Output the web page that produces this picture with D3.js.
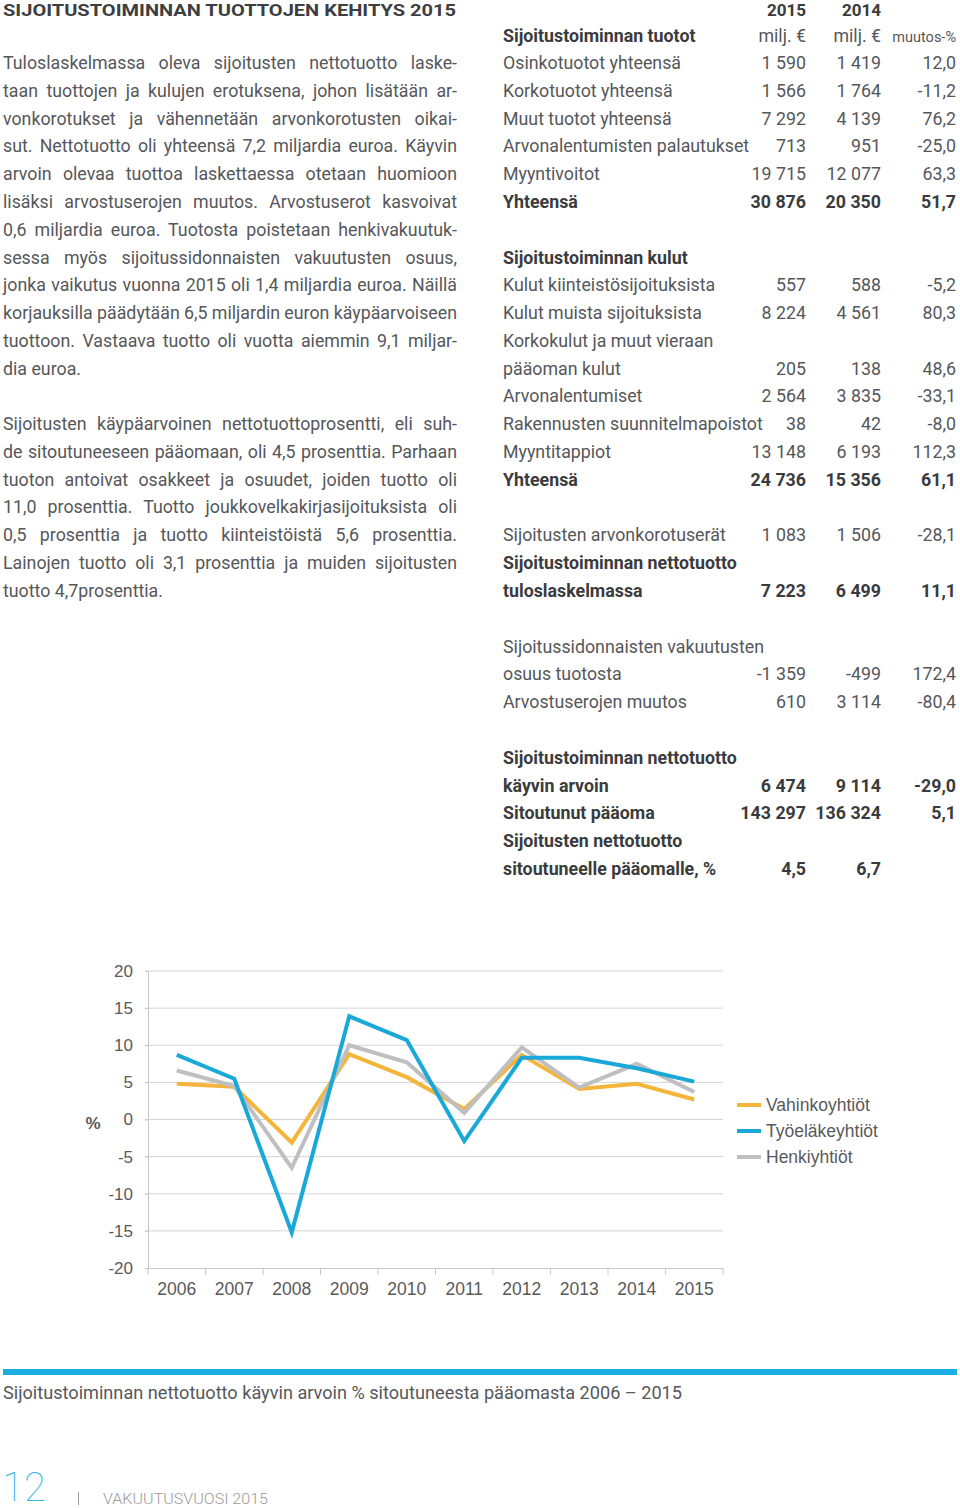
<!DOCTYPE html>
<html><head><meta charset="utf-8">
<script src="https://cdn.jsdelivr.net/npm/d3@7"></script>
<style>
html,body{margin:0;padding:0;background:#fff;}
svg{display:block;}
</style></head>
<body>
<svg id="page" width="960" height="1508"></svg>
<script>
// ---------- DATA ----------
const years = ["2006","2007","2008","2009","2010","2011","2012","2013","2014","2015"];
const vahinko = [4.8, 4.4, -3.1, 8.8, 5.7, 1.4, 8.7, 4.1, 4.8, 2.7];
const tyoelake = [8.7, 5.5, -15.2, 13.9, 10.7, -2.9, 8.3, 8.3, 6.9, 5.1];
const henki = [6.6, 4.5, -6.5, 10.0, 7.7, 0.9, 9.7, 4.3, 7.5, 3.7];
const seriesNames = ["Vahinkoyhtiöt","Työeläkeyhtiöt","Henkiyhtiöt"];
const yTicks = [20,15,10,5,0,-5,-10,-15,-20];

const title = "SIJOITUSTOIMINNAN TUOTTOJEN KEHITYS 2015";
const para1 = [
 "Tuloslaskelmassa oleva sijoitusten nettotuotto laske-",
 "taan tuottojen ja kulujen erotuksena, johon lisätään ar-",
 "vonkorotukset ja vähennetään arvonkorotusten oikai-",
 "sut. Nettotuotto oli yhteensä 7,2 miljardia euroa. Käyvin",
 "arvoin olevaa tuottoa laskettaessa otetaan huomioon",
 "lisäksi arvostuserojen muutos. Arvostuserot kasvoivat",
 "0,6 miljardia euroa. Tuotosta poistetaan henkivakuutuk-",
 "sessa myös sijoitussidonnaisten vakuutusten osuus,",
 "jonka vaikutus vuonna 2015 oli 1,4 miljardia euroa. Näillä",
 "korjauksilla päädytään 6,5 miljardin euron käypäarvoiseen",
 "tuottoon. Vastaava tuotto oli vuotta aiemmin 9,1 miljar-",
 "dia euroa."
];
const para2 = [
 "Sijoitusten käypäarvoinen nettotuottoprosentti, eli suh-",
 "de sitoutuneeseen pääomaan, oli 4,5 prosenttia. Parhaan",
 "tuoton antoivat osakkeet ja osuudet, joiden tuotto oli",
 "11,0 prosenttia. Tuotto joukkovelkakirjasijoituksista oli",
 "0,5 prosenttia ja tuotto kiinteistöistä 5,6 prosenttia.",
 "Lainojen tuotto oli 3,1 prosenttia ja muiden sijoitusten",
 "tuotto 4,7prosenttia."
];

const tableYears = ["2015","2014"];
const tableUnits = ["milj. €","milj. €","muutos-%"];
const tableHeadLabel = "Sijoitustoiminnan tuotot";
const rowLabels = [
 "Osinkotuotot yhteensä","Korkotuotot yhteensä","Muut tuotot yhteensä","Arvonalentumisten palautukset","Myyntivoitot","Yhteensä",
 "",
 "Sijoitustoiminnan kulut","Kulut kiinteistösijoituksista","Kulut muista sijoituksista","Korkokulut ja muut vieraan","pääoman kulut","Arvonalentumiset","Rakennusten suunnitelmapoistot","Myyntitappiot","Yhteensä",
 "",
 "Sijoitusten arvonkorotuserät","Sijoitustoiminnan nettotuotto","tuloslaskelmassa",
 "",
 "Sijoitussidonnaisten vakuutusten","osuus tuotosta","Arvostuserojen muutos",
 "",
 "Sijoitustoiminnan nettotuotto","käyvin arvoin","Sitoutunut pääoma","Sijoitusten nettotuotto","sitoutuneelle pääomalle, %"
];
const rowVal2015 = ["1 590","1 566","7 292","713","19 715","30 876","","","557","8 224","","205","2 564","38","13 148","24 736","","1 083","","7 223","","","-1 359","610","","","6 474","143 297","","4,5"];
const rowVal2014 = ["1 419","1 764","4 139","951","12 077","20 350","","","588","4 561","","138","3 835","42","6 193","15 356","","1 506","","6 499","","","-499","3 114","","","9 114","136 324","","6,7"];
const rowChange = ["12,0","-11,2","76,2","-25,0","63,3","51,7","","","-5,2","80,3","","48,6","-33,1","-8,0","112,3","61,1","","-28,1","","11,1","","","172,4","-80,4","","","-29,0","5,1","",""];
const rowBold = [0,0,0,0,0,1,0,1,0,0,0,0,0,0,0,1,0,0,1,1,0,0,0,0,0,1,1,1,1,1];

const caption = "Sijoitustoiminnan nettotuotto käyvin arvoin % sitoutuneesta pääomasta 2006 – 2015";
const pageNo = "12";
const footerText = "VAKUUTUSVUOSI 2015";

// ---------- STYLE ----------
const textFont = "Roboto, 'Noto Sans', sans-serif";
const chartFont = "'Liberation Sans', Arial, sans-serif";
const textColor = "#55575a";
const boldColor = "#3a3b3d";
const colors = ["#f5b53a","#1aa8d8","#bfbfc1"];
const fs = 17.8;

const svg = d3.select("#page");

// ---------- TITLE ----------
svg.append("text").attr("x",3).attr("y",16)
  .attr("font-family",textFont).attr("font-weight",700).attr("font-size",17)
  .attr("fill","#3d3e40").attr("textLength",453).attr("lengthAdjust","spacingAndGlyphs")
  .text(title);

// ---------- PARAGRAPHS ----------
const pitch = 27.79;
function justify(sel, width){
  sel.each(function(){
    const el = d3.select(this);
    const txt = el.text();
    const spaces = (txt.match(/ /g)||[]).length;
    const w = this.getComputedTextLength();
    if(spaces>0) el.attr("word-spacing", (width - w)/spaces);
  });
}
function drawPara(lines, y0){
  const g = svg.append("g");
  lines.forEach((ln,i)=>{
    const t = g.append("text").attr("x",3).attr("y",y0 + i*pitch + 6)
      .attr("font-family",textFont).attr("font-size",fs).attr("fill",textColor)
      .attr("xml:space","preserve").text(ln);
    if(i < lines.length-1) justify(t, 454);
  });
}
drawPara(para1, 63);
drawPara(para2, 424);

// ---------- TABLE ----------
const colX = [806, 881, 956];
const tg = svg.append("g").attr("font-family",textFont).attr("font-size",fs);
tableYears.forEach((yr,i)=>{
  tg.append("text").attr("x",colX[i]).attr("y",16).attr("text-anchor","end")
    .attr("font-size",17).attr("font-weight",700).attr("fill",boldColor).text(yr);
});
tg.append("text").attr("x",503).attr("y",42).attr("font-weight",700).attr("fill",boldColor).text(tableHeadLabel);
tableUnits.forEach((u,i)=>{
  tg.append("text").attr("x",colX[i]).attr("y",42).attr("text-anchor","end")
    .attr("font-size", i===2?14.5:fs).attr("fill",textColor).text(u);
});
rowLabels.forEach((lab,i)=>{
  const y = 63 + i*pitch + 6;
  const b = rowBold[i]===1;
  const fw = b?700:400, fc = b?boldColor:textColor;
  tg.append("text").attr("x",503).attr("y",y).attr("font-weight",fw).attr("fill",fc).text(lab);
  [rowVal2015[i],rowVal2014[i],rowChange[i]].forEach((v,j)=>{
    if(v) tg.append("text").attr("x",colX[j]).attr("y",y).attr("text-anchor","end")
      .attr("font-weight",fw).attr("fill",fc).text(v);
  });
});

// ---------- CHART ----------
const x0 = 148, x1 = 723, yTop = 971, yBot = 1268;
const xBand = d3.scaleBand().domain(years).range([x0,x1]);
const xPt = d3.scalePoint().domain(years).range([x0,x1]).padding(0.5);
const y = d3.scaleLinear().domain([-20,20]).range([yBot,yTop]);

const cg = svg.append("g");
cg.append("g").selectAll("line").data(yTicks.filter(t=>t!==-20)).join("line")
  .attr("x1",x0-3).attr("x2",x1).attr("y1",d=>y(d)).attr("y2",d=>y(d))
  .attr("stroke","#d4d4d4").attr("stroke-width",1);
const yAxis = cg.append("g").attr("transform",`translate(${x0},0)`)
  .call(d3.axisLeft(y).tickValues(yTicks).tickSize(3).tickPadding(12).tickFormat(d=>String(d)));
yAxis.select(".domain").attr("stroke","#c8c8c8");
yAxis.selectAll(".tick line").attr("stroke","#c8c8c8");
yAxis.selectAll("text").attr("font-family",chartFont).attr("font-size",17).attr("fill","#5a5a5a");
const xAxis = cg.append("g").attr("transform",`translate(0,${yBot})`)
  .call(d3.axisBottom(xBand).tickSize(0).tickPadding(15));
xAxis.select(".domain").attr("stroke","#c8c8c8");
xAxis.selectAll("text").attr("font-family",chartFont).attr("font-size",17.5).attr("fill","#5a5a5a");
cg.append("g").selectAll("line").data(years.concat(["__end"])).join("line")
  .attr("x1",(d,i)=> i<years.length ? xBand(d) : x1)
  .attr("x2",(d,i)=> i<years.length ? xBand(d) : x1)
  .attr("y1",yBot).attr("y2",yBot+7).attr("stroke","#c8c8c8");
cg.append("text").attr("x",93).attr("y",y(0)+9).attr("text-anchor","middle")
  .attr("font-family",chartFont).attr("font-size",17).attr("font-weight",700).attr("fill","#5a5a5a").text("%");

const line = d3.line().x((d,i)=>xPt(years[i])).y(d=>y(d));
const seriesData = [vahinko, tyoelake, henki];
[0,2,1].forEach(k=>{
  cg.append("path").datum(seriesData[k]).attr("d",line)
    .attr("fill","none").attr("stroke",colors[k]).attr("stroke-width",4)
    .attr("stroke-linejoin","miter");
});
const lg = cg.append("g");
seriesNames.forEach((n,i)=>{
  const ly = 1105 + i*26;
  lg.append("line").attr("x1",737).attr("x2",761).attr("y1",ly).attr("y2",ly)
    .attr("stroke",colors[i]).attr("stroke-width",4);
  lg.append("text").attr("x",766).attr("y",ly+6).attr("font-family",chartFont)
    .attr("font-size",17.5).attr("fill","#5a5a5a").text(n);
});

// ---------- FOOTER ----------
svg.append("rect").attr("x",3).attr("y",1369).attr("width",954).attr("height",6).attr("fill","#1aaee3");
svg.append("text").attr("x",3).attr("y",1399).attr("font-family",textFont).attr("font-size",fs)
  .attr("fill",textColor).attr("textLength",679).attr("lengthAdjust","spacingAndGlyphs").text(caption);
svg.append("text").attr("x",2).attr("y",1501).attr("font-family",textFont).attr("font-weight",100)
  .attr("font-size",40).attr("fill","#3cb4e6").text(pageNo);
svg.append("rect").attr("x",78).attr("y",1492).attr("width",1).attr("height",13).attr("fill","#9a9a9a");
svg.append("text").attr("x",103).attr("y",1504).attr("font-family",textFont).attr("font-weight",300)
  .attr("font-size",15).attr("fill","#9a9a9a").attr("textLength",165).attr("lengthAdjust","spacingAndGlyphs").text(footerText);
</script>
</body></html>
